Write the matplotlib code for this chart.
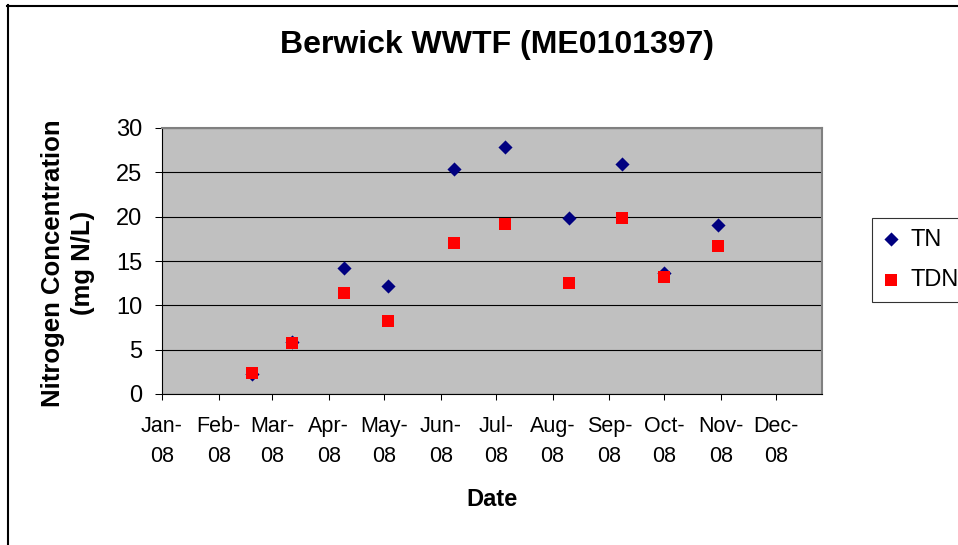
import matplotlib
matplotlib.use("Agg")
import matplotlib.pyplot as plt
import matplotlib.dates as mdates
from matplotlib.lines import Line2D
import numpy as np

plt.rcParams['font.family'] = ['Liberation Sans', 'DejaVu Sans']

# ---- data ----
sample_dates = ['2008-02-19', '2008-03-12', '2008-04-09', '2008-05-03', '2008-06-08',
                '2008-07-06', '2008-08-10', '2008-09-08', '2008-10-01', '2008-10-30']
tn_values = [2.2, 5.9, 14.2, 12.2, 25.4, 27.9, 19.8, 25.9, 13.7, 19.1]
tdn_values = [2.4, 5.7, 11.4, 8.2, 17.0, 19.2, 12.5, 19.9, 13.2, 16.7]
month_ticks = ['2008-01-01', '2008-02-01', '2008-03-01', '2008-04-01', '2008-05-01', '2008-06-01',
               '2008-07-01', '2008-08-01', '2008-09-01', '2008-10-01', '2008-11-01', '2008-12-01']
month_labels = ['Jan-\n08', 'Feb-\n08', 'Mar-\n08', 'Apr-\n08', 'May-\n08', 'Jun-\n08',
                'Jul-\n08', 'Aug-\n08', 'Sep-\n08', 'Oct-\n08', 'Nov-\n08', 'Dec-\n08']
y_ticks = [0, 5, 10, 15, 20, 25, 30]

W, H = 958, 545
fig = plt.figure(figsize=(W / 100, H / 100), dpi=100)
fig.patch.set_facecolor('white')

ax = fig.add_axes([162 / W, 1 - 394 / H, 660 / W, 266 / H])
ax.set_facecolor('#C0C0C0')

x = mdates.date2num(np.array(sample_dates, dtype='datetime64[D]'))
ax.scatter(x, tn_values, marker='D', s=7.2 ** 2, color='#000080', linewidths=0, zorder=3, label='TN')
ax.scatter(x, tdn_values, marker='s', s=9.0 ** 2, color='#FF0000', linewidths=0, zorder=4, label='TDN')

ax.set_xlim(mdates.date2num(np.datetime64('2008-01-01')), mdates.date2num(np.datetime64('2008-12-26')))
ax.set_ylim(0, 30)

tick_x = mdates.date2num(np.array(month_ticks, dtype='datetime64[D]'))
ax.set_xticks(tick_x)
ax.set_xticklabels(month_labels, fontsize=15.5, linespacing=1.6)
ax.set_yticks(y_ticks)
ax.set_yticklabels([str(v) for v in y_ticks], fontsize=17)

ax.tick_params(axis='x', direction='out', length=4.5, width=0.75, pad=11, color='black')
ax.tick_params(axis='y', direction='out', length=5.0, width=0.75, pad=9, color='black')

ax.yaxis.grid(True, color='black', linewidth=0.8)
ax.set_axisbelow(True)

for side in ['left', 'bottom']:
    ax.spines[side].set_color('black')
    ax.spines[side].set_linewidth(0.8)
for side in ['top', 'right']:
    ax.spines[side].set_color('#808080')
    ax.spines[side].set_linewidth(1.5)

# titles
fig.text(497 / W, 1 - 45 / H, 'Berwick WWTF (ME0101397)', fontsize=23, fontweight='bold',
         ha='center', va='center')
fig.text(492 / W, 1 - 500 / H, 'Date', fontsize=17, fontweight='bold', ha='center', va='center')
fig.text(68 / W, 1 - 263 / H, 'Nitrogen Concentration\n(mg N/L)', fontsize=18.5, fontweight='bold',
         ha='center', va='center', rotation=90, multialignment='center', linespacing=1.3)

# legend
leg = fig.legend(loc='upper left', bbox_to_anchor=(872 / W, 1 - 218 / H), fontsize=17,
                 frameon=True, fancybox=False, edgecolor='black', borderpad=0.45,
                 labelspacing=0.78, handlelength=0.75, handletextpad=0.45, borderaxespad=0,
                 scatterpoints=1)
leg.get_frame().set_linewidth(0.8)

# outer chart border
fig.add_artist(Line2D([8 / W, 8 / W], [1 - 5 / H, 0], transform=fig.transFigure,
                      color='black', linewidth=1.5))
fig.add_artist(Line2D([7 / W, 1], [1 - 6 / H, 1 - 6 / H], transform=fig.transFigure,
                      color='black', linewidth=1.5))

fig.savefig('out.png', dpi=100)
